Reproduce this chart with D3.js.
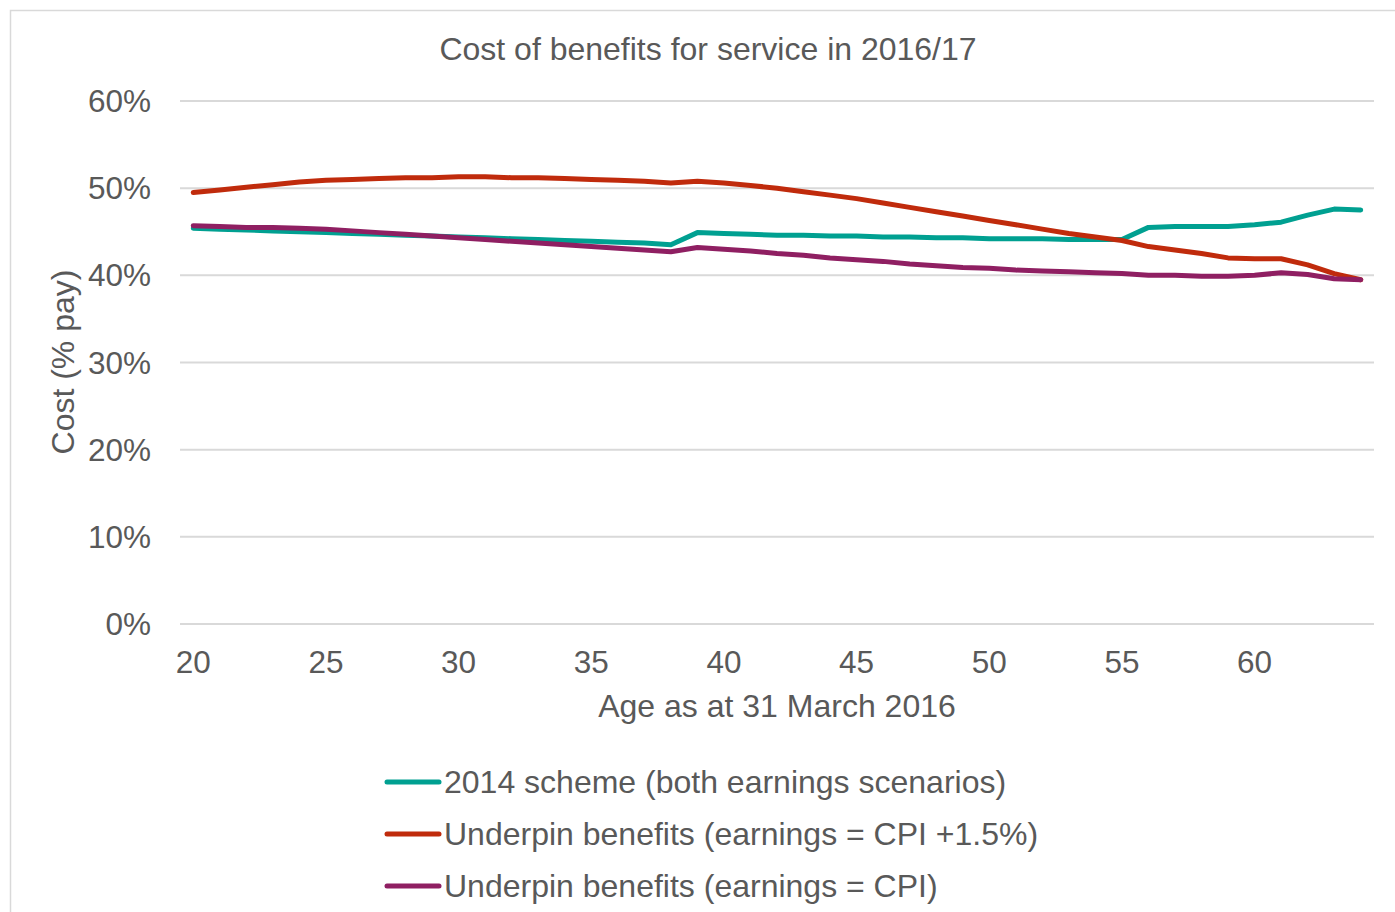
<!DOCTYPE html>
<html>
<head>
<meta charset="utf-8">
<script src="https://cdn.jsdelivr.net/npm/d3@7"></script>
<style>
  body { margin: 0; background: #fff; }
  text { font-family: "Liberation Sans", Arial, sans-serif; fill: #595959; }
</style>
</head>
<body>
<svg id="chart" width="1395" height="912"></svg>
<script>
const ages = d3.range(20, 65);

const scheme2014 = [
  45.4, 45.3, 45.2, 45.1, 45.0, 44.9, 44.8, 44.7, 44.6, 44.5,
  44.4, 44.3, 44.2, 44.1, 44.0, 43.9, 43.8, 43.7, 43.5, 44.9,
  44.8, 44.7, 44.6, 44.6, 44.5, 44.5, 44.4, 44.4, 44.3, 44.3,
  44.2, 44.2, 44.2, 44.1, 44.1, 44.1, 45.5, 45.6, 45.6, 45.6,
  45.8, 46.1, 46.9, 47.6, 47.5
];

const underpinCpiPlus = [
  49.5, 49.8, 50.1, 50.4, 50.7, 50.9, 51.0, 51.1, 51.2, 51.2,
  51.3, 51.3, 51.2, 51.2, 51.1, 51.0, 50.9, 50.8, 50.6, 50.8,
  50.6, 50.3, 50.0, 49.6, 49.2, 48.8, 48.3, 47.8, 47.3, 46.8,
  46.3, 45.8, 45.3, 44.8, 44.4, 44.0, 43.3, 42.9, 42.5, 42.0,
  41.9, 41.9, 41.2, 40.2, 39.5
];

const underpinCpi = [
  45.7, 45.6, 45.5, 45.5, 45.4, 45.3, 45.1, 44.9, 44.7, 44.5,
  44.3, 44.1, 43.9, 43.7, 43.5, 43.3, 43.1, 42.9, 42.7, 43.2,
  43.0, 42.8, 42.5, 42.3, 42.0, 41.8, 41.6, 41.3, 41.1, 40.9,
  40.8, 40.6, 40.5, 40.4, 40.3, 40.2, 40.0, 40.0, 39.9, 39.9,
  40.0, 40.3, 40.1, 39.6, 39.5
];

const xTicks = [20, 25, 30, 35, 40, 45, 50, 55, 60];
const yTicks = [0, 10, 20, 30, 40, 50, 60];

const seriesList = [
  { name: "2014 scheme (both earnings scenarios)", values: scheme2014, color: "#00A091" },
  { name: "Underpin benefits (earnings = CPI +1.5%)", values: underpinCpiPlus, color: "#C02B0C" },
  { name: "Underpin benefits (earnings = CPI)", values: underpinCpi, color: "#8F1F62" }
];

const svg = d3.select("#chart");

// chart area border
svg.append("rect")
  .attr("x", 10.5)
  .attr("y", 10.5)
  .attr("width", 1500)
  .attr("height", 1000)
  .attr("fill", "white")
  .attr("stroke", "#D9D9D9")
  .attr("stroke-width", 1.5);

const plot = { left: 180, right: 1374, top: 101, bottom: 624 };

const x = d3.scaleLinear()
  .domain([19.5, 64.5])
  .range([plot.left, plot.right]);

const y = d3.scaleLinear()
  .domain([0, 60])
  .range([plot.bottom, plot.top]);

// gridlines
svg.append("g")
  .selectAll("line")
  .data(yTicks)
  .enter()
  .append("line")
  .attr("x1", plot.left)
  .attr("x2", plot.right)
  .attr("y1", d => y(d))
  .attr("y2", d => y(d))
  .attr("stroke", "#D9D9D9")
  .attr("stroke-width", 2);

// y tick labels
svg.append("g")
  .selectAll("text")
  .data(yTicks)
  .enter()
  .append("text")
  .attr("x", 151)
  .attr("y", d => y(d))
  .attr("dy", "0.35em")
  .attr("text-anchor", "end")
  .attr("font-size", "31.5px")
  .text(d => d + "%");

// x tick labels
svg.append("g")
  .selectAll("text")
  .data(xTicks)
  .enter()
  .append("text")
  .attr("x", d => x(d))
  .attr("y", 662)
  .attr("dy", "0.35em")
  .attr("text-anchor", "middle")
  .attr("font-size", "31.5px")
  .text(d => d);

// title
svg.append("text")
  .attr("x", 708)
  .attr("y", 49)
  .attr("dy", "0.35em")
  .attr("text-anchor", "middle")
  .attr("font-size", "32px")
  .text("Cost of benefits for service in 2016/17");

// axis titles
svg.append("text")
  .attr("x", 777)
  .attr("y", 706)
  .attr("dy", "0.35em")
  .attr("text-anchor", "middle")
  .attr("font-size", "32px")
  .text("Age as at 31 March 2016");

svg.append("text")
  .attr("transform", "translate(63,362) rotate(-90)")
  .attr("dy", "0.35em")
  .attr("text-anchor", "middle")
  .attr("font-size", "32px")
  .text("Cost (% pay)");

// lines
const line = d3.line()
  .x((d, i) => x(ages[i]))
  .y(d => y(d));

svg.append("g")
  .selectAll("path")
  .data(seriesList)
  .enter()
  .append("path")
  .attr("d", d => line(d.values))
  .attr("fill", "none")
  .attr("stroke", d => d.color)
  .attr("stroke-width", 5)
  .attr("stroke-linecap", "round")
  .attr("stroke-linejoin", "round");

// legend
const legend = svg.append("g")
  .selectAll("g")
  .data(seriesList)
  .enter()
  .append("g")
  .attr("transform", (d, i) => "translate(0," + (782 + i * 52) + ")");

legend.append("line")
  .attr("x1", 387)
  .attr("x2", 439)
  .attr("stroke", d => d.color)
  .attr("stroke-width", 5)
  .attr("stroke-linecap", "round");

legend.append("text")
  .attr("x", 444)
  .attr("dy", "0.35em")
  .attr("font-size", "32px")
  .text(d => d.name);
</script>
</body>
</html>
